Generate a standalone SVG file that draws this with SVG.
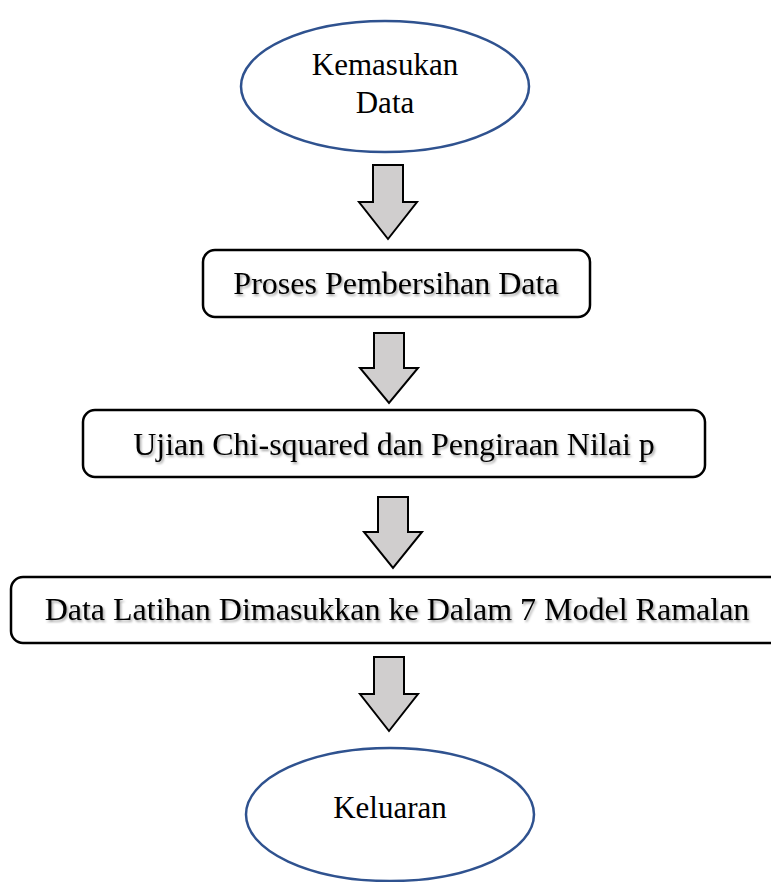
<svg xmlns="http://www.w3.org/2000/svg" width="771" height="882" viewBox="0 0 771 882">
<style>
.ell{fill:#ffffff;stroke:#2f528f;stroke-width:2.5}
.box{fill:#ffffff;stroke:#000000;stroke-width:2.5}
.arr{fill:#d0cece;stroke:#000000;stroke-width:2;stroke-linejoin:miter}
.t{font-family:"Liberation Serif","Times New Roman",serif;font-size:31px;fill:#000000;text-anchor:middle}
.tb{font-family:"Liberation Serif","Times New Roman",serif;font-size:32px;fill:#000000;text-anchor:middle;filter:url(#sh)}
</style>
<defs>
<filter id="sh" x="-5%" y="-30%" width="110%" height="160%">
<feDropShadow dx="1.5" dy="2" stdDeviation="1.2" flood-color="#000000" flood-opacity="0.35"/>
</filter>
</defs>
<rect width="771" height="882" fill="#ffffff"/>
<g id="connectors">
<path class="arr" d="M373,165 H403 V202 H417 L388,239 L359,202 H373 Z"/>
<path class="arr" d="M374,333 H404 V368 H418 L389,403 L360,368 H374 Z"/>
<path class="arr" d="M378,497 H408 V532 H422 L393,568 L364,532 H378 Z"/>
<path class="arr" d="M374,657 H404 V694 H418 L389,731 L360,694 H374 Z"/>
</g>
<g id="node-kemasukan">
<ellipse class="ell" cx="385" cy="86.5" rx="144" ry="65.5"/>
<text class="t" x="385" y="75">Kemasukan</text>
<text class="t" x="385" y="113">Data</text>
</g>
<g id="node-proses">
<rect class="box" x="203" y="250" width="387" height="67" rx="12"/>
<text class="tb" x="396" y="294">Proses Pembersihan Data</text>
</g>
<g id="node-ujian">
<rect class="box" x="83" y="410" width="622" height="67" rx="12"/>
<text class="tb" x="394" y="455">Ujian Chi-squared dan Pengiraan Nilai p</text>
</g>
<g id="node-data-latihan">
<rect class="box" x="11" y="577" width="775" height="66" rx="12"/>
<text class="tb" x="397" y="620">Data Latihan Dimasukkan ke Dalam 7 Model Ramalan</text>
</g>
<g id="node-keluaran">
<ellipse class="ell" cx="390" cy="814.5" rx="144" ry="66.5"/>
<text class="t" x="390" y="818">Keluaran</text>
</g>
</svg>
